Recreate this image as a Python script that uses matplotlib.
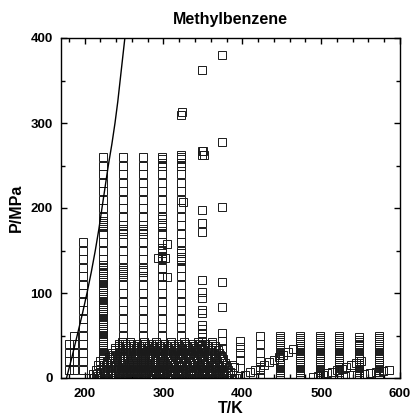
import matplotlib
matplotlib.use("Agg")
import matplotlib.pyplot as plt
from matplotlib.ticker import MultipleLocator

plt.rcParams['font.family'] = ['Liberation Sans', 'DejaVu Sans']

# ---------------- data ----------------
title = "Methylbenzene"
x_label = "T/K"
y_label = "P/MPa"

# melting curve
melt_T = [177, 184, 190.5, 197, 203, 208.5, 213.5, 218, 222, 226, 230, 234.5,
          238.5, 242, 245, 248, 251]
melt_P = [0, 25, 50, 75, 100, 125, 150, 175, 200, 225, 250, 275, 300, 325,
          350, 375, 400]

# isotherms (temperature, list of pressures)
iso_T = [180, 186, 198, 223, 249, 274, 298, 322, 349, 374, 397,
         423, 448, 473, 498, 523, 548, 573]

P_180 = [10, 20, 30, 40]
P_186 = [10, 20, 30, 40, 50]
P_198 = [10, 20, 30, 40, 50, 60, 70, 80, 90, 100, 110, 120, 130, 140, 150, 160]
P_223 = [10, 20, 30, 40, 50, 60, 70, 80, 90, 100, 110, 120, 130, 140, 150, 160,
         170, 180, 190, 200, 210, 220, 230, 240, 250, 260,
         22.5, 25, 27.5, 32.5, 35, 37.5, 42.5, 45, 47.5, 52.5, 55, 57.5, 62.5,
         65, 67.5, 72.5, 75, 77.5, 82.5, 85, 87.5, 92.5, 95, 97.5, 102.5, 105,
         107.5, 112.5, 115, 117.5, 122.5, 125, 127.5, 132.5, 177.5, 182.5, 185]
P_249 = [10, 20, 30, 40, 50, 60, 70, 80, 90, 100, 110, 120, 130, 140, 150, 160,
         170, 180, 190, 200, 210, 220, 230, 240, 250, 260,
         172.5, 175, 122.5, 125, 127.5, 5, 15, 25, 35]
P_274 = [10, 20, 30, 40, 50, 60, 70, 80, 90, 100, 110, 120, 130, 140, 150, 160,
         170, 180, 190, 200, 210, 220, 230, 240, 250, 260,
         172.5, 175, 125, 127.5, 5, 15, 25, 35]
P_298 = [10, 20, 30, 40, 50, 60, 70, 80, 90, 100, 110, 120, 130, 140, 150, 160,
         170, 180, 190, 200, 210, 220, 230, 240, 250, 260,
         257.5, 252.5, 187.5, 182.5, 177.5, 152.5, 147.5, 142.5, 5, 15, 25, 35]
P_322 = [10, 20, 30, 40, 50, 60, 70, 80, 90, 100, 110, 120, 130, 140, 150, 160,
         170, 180, 190, 200, 210, 220, 230, 240, 250, 260, 310,
         262.5, 257.5, 252.5, 147.5, 142.5, 137.5, 5, 15, 25, 35]
P_349 = [362, 267, 262, 198, 182, 172, 115, 101, 94, 80, 76, 62, 58, 52, 48, 43,
         35, 30, 25, 20, 15, 10, 5]
P_374 = [380, 278, 201, 113, 84, 53, 43, 35, 25, 15, 5]
P_397 = [44, 36.5, 29.5, 21, 12, 2.5]
P_423 = [1, 10, 20, 30, 40, 50]
P_448 = [0.5, 2.5, 5, 7.5, 10, 12.5, 15, 17.5, 20, 22.5, 25, 27.5, 30, 32.5,
         35, 37.5, 40, 42.5, 45, 47.5, 50]
P_473 = [0.5, 2.5, 5, 7.5, 10, 12.5, 15, 17.5, 20, 22.5, 25, 27.5, 30, 32.5,
         35, 37.5, 40, 42.5, 45, 47.5, 50]
P_498 = [0.5, 2.5, 5, 7.5, 10, 12.5, 15, 17.5, 20, 22.5, 25, 27.5, 30, 32.5,
         35, 37.5, 40, 42.5, 45, 47.5, 50]
P_523 = [0.5, 2.5, 5, 7.5, 10, 12.5, 15, 17.5, 20, 22.5, 25, 27.5, 30, 32.5,
         35, 37.5, 40, 42.5, 45, 47.5, 50]
P_548 = [0.5, 2.5, 5, 7.5, 10, 12.5, 15, 17.5, 20, 22.5, 25, 27.5, 30, 32.5,
         35, 37.5, 40, 42.5, 45, 48.5]
P_573 = [0.5, 2.5, 5, 7.5, 10, 12.5, 15, 17.5, 20, 22.5, 25, 27.5, 30, 32.5,
         35, 37.5, 40, 42.5, 45, 47.5, 50]

iso_P = [P_180, P_186, P_198, P_223, P_249, P_274, P_298, P_322, P_349, P_374,
         P_397, P_423, P_448, P_473, P_498, P_523, P_548, P_573]

# scattered extra points
extra_T = [304, 293, 302, 298, 304, 325, 324, 350, 351]
extra_P = [158, 141, 141, 119, 119, 207.5, 313, 267, 262]

# isochores (liquid region): shared pressure steps, temperatures per line
chore_P = [0.5, 5, 10, 15, 20, 25, 30, 35, 40]
chore_T = [
    [208, 211, 214, 217, 220],
    [212, 216, 220, 224, 228, 231, 235, 239, 243],
    [220, 224, 228, 232, 235, 239, 243, 247, 251],
    [228, 232, 236, 240, 243, 247, 251, 255, 259],
    [236, 240, 244, 248, 251, 255, 259, 263, 267],
    [244, 248, 252, 256, 260, 264, 268, 272, 276],
    [252, 256, 260, 264, 268, 272, 276, 280, 284],
    [260, 264, 268, 272, 276, 280, 284, 288, 292],
    [268, 272, 276, 280, 285, 289, 293, 297, 301],
    [276, 280, 284, 289, 293, 297, 302, 306, 310],
    [284, 288, 293, 297, 301, 306, 310, 314, 319],
    [292, 296, 301, 305, 310, 314, 318, 323, 327],
    [300, 304, 309, 313, 318, 322, 327, 331, 336],
    [308, 312, 317, 322, 326, 331, 335, 340, 345],
    [316, 320, 325, 330, 334, 339, 344, 348, 353],
    [324, 328, 333, 338, 343, 347, 352, 357, 362],
    [332, 336, 341, 346, 351, 356, 361, 366],
    [340, 345, 350, 355, 360, 365, 370],
    [348, 353, 358, 363, 368, 373],
    [356, 361, 366, 371, 376],
    [364, 369, 374, 379],
    [372, 377, 382, 387],
]
# second family of isochores, interleaved
chore2_P = [2.5, 7.5, 12.5, 17.5, 22.5, 27.5, 32.5, 37.5, 42.5]
chore2_T = [
    [217, 220, 224, 228, 232, 236, 239, 243, 247],
    [226, 230, 233, 237, 241, 245, 249, 253, 257],
    [235, 239, 242, 246, 250, 254, 258, 262],
    [243, 247, 251, 255, 259, 263, 267, 271, 275],
    [251, 255, 259, 263, 267, 271, 275, 279],
    [259, 263, 267, 271, 275, 279, 283, 287, 291],
    [267, 271, 275, 279, 283, 287, 292, 296],
    [275, 279, 283, 288, 292, 296, 300, 305, 309],
    [283, 287, 292, 296, 300, 305, 309, 313],
    [291, 295, 300, 304, 309, 313, 317, 322, 326],
    [299, 303, 308, 312, 317, 321, 326, 330],
    [307, 311, 316, 321, 325, 330, 334, 339, 344],
    [315, 319, 324, 329, 333, 338, 343, 347],
    [323, 327, 332, 337, 342, 346, 351, 356, 361],
    [331, 335, 340, 345, 350, 355, 360, 365],
    [339, 344, 349, 354, 359, 364, 369],
    [347, 352, 357, 362, 367, 372],
    [355, 360, 365, 370, 375],
    [363, 368, 373, 378],
    [371, 376, 381],
    [379, 384, 389],
]

# low-pressure row
low_T = [212, 215, 218, 221, 224, 227, 230, 233, 236, 239, 242, 245, 248, 251,
         254, 257, 260, 263, 266, 269, 272, 275, 278, 281, 284, 287, 290, 293,
         296, 299, 302, 305, 308, 311, 314, 317, 320, 323, 326, 329, 332, 335,
         338, 341, 344, 347, 350, 353, 356, 359, 362, 365, 368, 371, 374, 377,
         380, 383, 386, 389, 392]
low_P = [0.1] * len(low_T)

# diagonal series at high temperature
diag1_T = [404, 410, 416, 422, 428, 434, 440, 446, 452, 458, 464]
diag1_P = [3, 6.5, 9.5, 12.5, 15.5, 18.5, 21.5, 24.5, 27.5, 31, 34]
diag2_T = [490, 496, 502, 508, 514, 520, 526, 532, 538, 544, 550]
diag2_P = [1, 2.5, 4, 5.5, 7, 9, 11, 13, 15, 17.5, 20]
diag3_T = [530, 538, 546, 554, 562, 570, 578, 586]
diag3_P = [2, 3, 4, 5, 6, 7, 8, 9]

# ---------------- plot ----------------
fig = plt.figure(figsize=(4.12, 4.16), dpi=100)
ax = fig.add_axes([61 / 412, 1 - 378 / 416, 339 / 412, 340 / 416])

mk = dict(linestyle='none', marker='s', markersize=5.4, markerfacecolor='none',
          markeredgecolor='#1a1a1a', markeredgewidth=0.7)

for t, plist in zip(iso_T, iso_P):
    ax.plot([t] * len(plist), plist, **mk)
ax.plot(extra_T, extra_P, **mk)
for tl in chore_T:
    ax.plot(tl, chore_P[:len(tl)], **mk)
for tl in chore2_T:
    ax.plot(tl, chore2_P[:len(tl)], **mk)
ax.plot(low_T, low_P, **mk)
ax.plot(diag1_T, diag1_P, **mk)
ax.plot(diag2_T, diag2_P, **mk)
ax.plot(diag3_T, diag3_P, **mk)

ax.plot(melt_T, melt_P, color='black', lw=1.0)

ax.set_xlim(170, 600)
ax.set_ylim(0, 400)
ax.xaxis.set_major_locator(MultipleLocator(100))
ax.xaxis.set_minor_locator(MultipleLocator(20))
ax.yaxis.set_major_locator(MultipleLocator(100))
ax.yaxis.set_minor_locator(MultipleLocator(50))
ax.tick_params(which='both', direction='in', top=True, right=True, width=1.0)
ax.tick_params(which='major', length=4.5)
ax.tick_params(which='minor', length=3)
ax.tick_params(axis='x', which='major', pad=7)
ax.tick_params(axis='y', which='major', pad=6)
for lab in ax.get_xticklabels() + ax.get_yticklabels():
    lab.set_fontweight('bold')
    lab.set_fontsize(9.5)
for s in ax.spines.values():
    s.set_linewidth(1.0)

ax.set_title(title, fontsize=11.5, fontweight='bold', pad=10)
ax.set_xlabel(x_label, fontsize=11.5, fontweight='bold', labelpad=1)
ax.set_ylabel(y_label, fontsize=11.5, fontweight='bold', labelpad=5)

fig.savefig("out.png", dpi=100)
